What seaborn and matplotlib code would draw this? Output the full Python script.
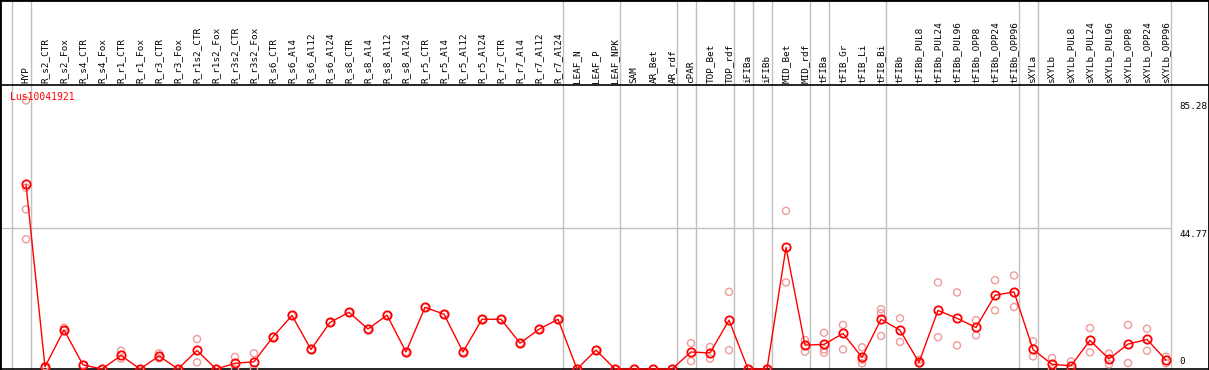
import numpy as np
import pandas as pd
import matplotlib
matplotlib.use("Agg")
import matplotlib.pyplot as plt
import seaborn as sns

# ========== DATA ==========

samples = [
    "HYP", "R_s2_CTR", "R_s2_Fox", "R_s4_CTR", "R_s4_Fox", "R_r1_CTR", "R_r1_Fox",
    "R_r3_CTR", "R_r3_Fox", "R_r1s2_CTR", "R_r1s2_Fox", "R_r3s2_CTR", "R_r3s2_Fox",
    "R_s6_CTR", "R_s6_Al4", "R_s6_Al12", "R_s6_Al24", "R_s8_CTR", "R_s8_Al4",
    "R_s8_Al12", "R_s8_Al24", "R_r5_CTR", "R_r5_Al4", "R_r5_Al12", "R_r5_Al24",
    "R_r7_CTR", "R_r7_Al4", "R_r7_Al12", "R_r7_Al24", "LEAF_N", "LEAF_P", "LEAF_NPK",
    "SAM", "AR_Bet", "AR_rdf", "cPAR", "TOP_Bet", "TOP_rdf", "iFIBa", "iFIBb",
    "MID_Bet", "MID_rdf", "tFIBa", "tFIB_Gr", "tFIB_Li", "tFIB_Bi", "tFIBb",
    "tFIBb_PUL8", "tFIBb_PUL24", "tFIBb_PUL96", "tFIBb_OPP8", "tFIBb_OPP24",
    "tFIBb_OPP96", "sXYLa", "sXYLb", "sXYLb_PUL8", "sXYLb_PUL24", "sXYLb_PUL96",
    "sXYLb_OPP8", "sXYLb_OPP24", "sXYLb_OPP96",
]

mean_values = [
    58.6, 0.7, 12.4, 1.3, 0.0, 4.3, 0.0, 4.1, 0.0, 5.9, 0.0, 1.8, 2.3,
    10.2, 17.0, 6.2, 14.8, 18.0, 12.7, 17.1, 5.4, 19.6, 17.4, 5.4, 15.8,
    15.8, 8.2, 12.6, 15.8, 0.0, 6.0, 0.0, 0.0, 0.0, 0.0, 5.4, 5.1, 15.5,
    0.0, 0.0, 38.6, 7.6, 7.8, 11.3, 3.7, 15.8, 12.3, 2.1, 18.6, 16.1, 13.2,
    23.4, 24.5, 6.2, 1.5, 1.0, 9.1, 3.2, 7.9, 9.4, 2.8,
]

replicate_values = [
    [85.28, 57.6, 50.7, 41.2], [0.9, 0.5], [13.1, 12.2], [1.3], [0.0],
    [5.8, 3.3], [0.0], [5.0, 3.4], [0.0], [9.5, 2.1], [0.0], [3.8, 0.0],
    [5.0, 0.0], [10.2], [17.0], [6.2], [14.8], [18.0], [12.7], [17.1], [5.4],
    [19.6], [17.4], [5.4], [15.8], [15.8], [8.2], [12.6], [15.8], [0.0], [6.0],
    [0.0], [0.0], [0.0], [0.0], [8.2, 2.5], [7.0, 3.3], [24.5, 6.0], [0.0],
    [0.0], [50.2, 27.5], [9.2, 5.5], [11.5, 6.2, 5.2], [14.0, 6.2],
    [6.9, 2.9, 1.8], [19.0, 17.7, 10.5], [16.1, 8.6], [2.9, 1.8], [27.5, 10.1],
    [24.3, 7.5], [15.5, 10.7], [28.2, 18.6], [29.7, 19.7], [8.8, 4.0],
    [3.5, 0.0], [2.4, 0.0], [13.0, 5.3], [4.9, 1.5], [14.0, 1.9], [12.8, 5.8],
    [3.9, 1.8],
]

# index of the last sample in each group (group separators)
group_ends = [-1, 0, 28, 31, 34, 35, 37, 38, 39, 41, 42, 45, 52, 53, 60]

y_tick_values = [85.28, 44.77, 0]
y_tick_labels = ["85.28", "44.77", "0"]
gene_id = "Lus10041921"

# ========== LAYOUT (pixel based, 1209 x 370) ==========

PX_STEP = 19.0        # pixels between samples
PX_FIRST = 26.0       # pixel x of first sample
PX_ZERO = 369.0       # pixel y of value 0
PX_PER_UNIT = 141.0 / 44.77
PX_HEADER = 85.0

def vy(py):
    return (PX_ZERO - py) / PX_PER_UNIT

def ix(px):
    return (px - PX_FIRST) / PX_STEP

mean_df = pd.DataFrame({"idx": np.arange(len(samples)), "value": mean_values})
rep_df = pd.DataFrame(
    [(i, v) for i, reps in enumerate(replicate_values) for v in reps],
    columns=["idx", "value"],
)

sns.set_style("white")
plt.rcParams["font.family"] = ["DejaVu Sans Mono", "DejaVu Sans"]

fig = plt.figure(figsize=(12.09, 3.70), dpi=100)
ax = fig.add_axes([0, 0, 1, 1])
ax.set_xlim(ix(0), ix(1209))
ax.set_ylim(vy(370), vy(0))

# separators and grid
for g in group_ends:
    ax.axvline(g + 5.0 / PX_STEP, color="#c0c0c0", lw=1.0, zorder=1)
ax.hlines(44.77, ix(0), group_ends[-1] + 5.0 / PX_STEP, color="#c0c0c0", lw=1.0, zorder=1)
ax.axhline(vy(PX_HEADER), color="black", lw=1.2, zorder=2)
ax.axhline(0, color="black", lw=1.2, zorder=2)

# replicates
sns.scatterplot(data=rep_df, x="idx", y="value", ax=ax, marker="o",
                facecolors="none", edgecolor="#f09a9a", linewidth=1.0, s=26,
                zorder=3, legend=False)

# mean line
sns.lineplot(data=mean_df, x="idx", y="value", ax=ax, color="#ff0000", lw=1.0,
             marker="o", markersize=6, markerfacecolor="none",
             markeredgecolor="#ff0000", markeredgewidth=1.3, zorder=4,
             legend=False)

# header labels
for i, name in enumerate(samples):
    ax.text(i, vy(83), name, rotation=90, ha="center", va="bottom",
            fontsize=6.7, color="black")

ax.text(ix(10), vy(97), gene_id, ha="left", va="center", fontsize=7,
        color="#ff0000", zorder=5)

for v, lab in zip(y_tick_values, y_tick_labels):
    ty = v - 2.0 if v > 0 else vy(362)
    ax.text(ix(1179), ty, lab, ha="left", va="center", fontsize=6.7,
            color="black")

ax.set_xticks([])
ax.set_yticks([])
ax.set_xlabel("")
ax.set_ylabel("")
for side in ["left", "right", "top"]:
    ax.spines[side].set_visible(True)
    ax.spines[side].set_color("black")
    ax.spines[side].set_linewidth(2.0)
ax.spines["bottom"].set_visible(False)

fig.savefig("out.png", dpi=100)
